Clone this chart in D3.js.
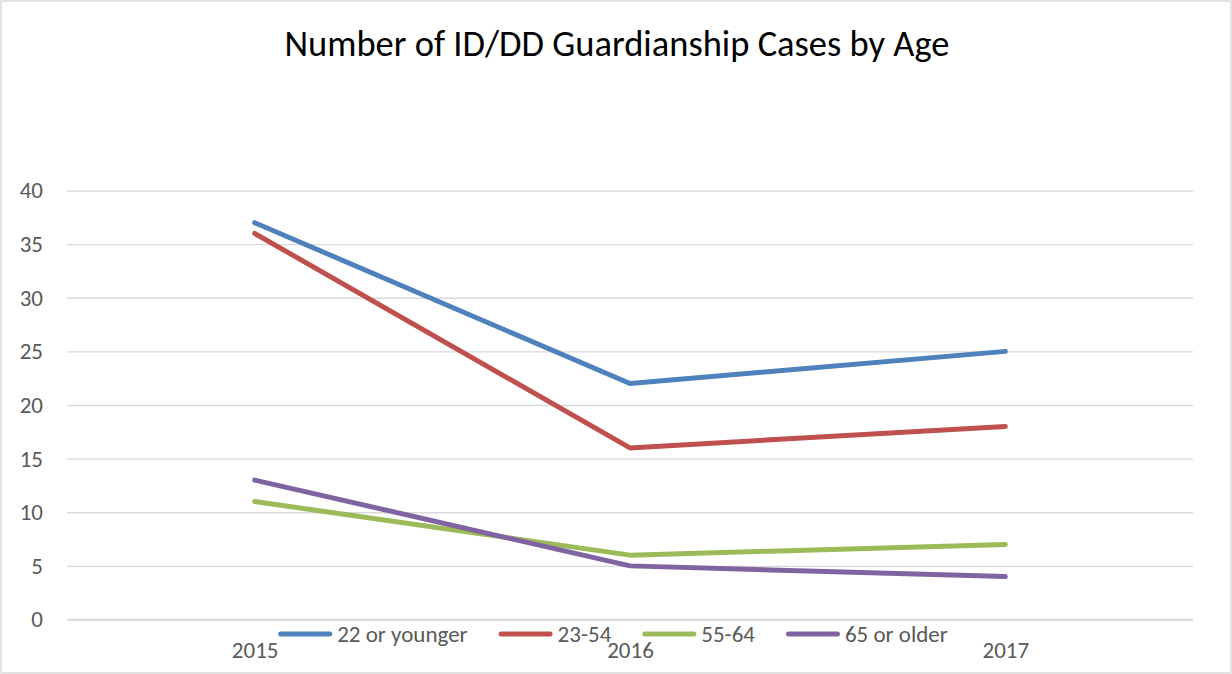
<!DOCTYPE html>
<html><head><meta charset="utf-8">
<script src="https://cdn.jsdelivr.net/npm/d3@7"></script>
<style>
html,body{margin:0;padding:0;background:#fff;}
svg{display:block;font-family:Carlito,Lato,"Open Sans",sans-serif;}
</style></head>
<body><svg id="chart" width="1232" height="674"></svg>
<script>
const title = "Number of ID/DD Guardianship Cases by Age";
const categories = ["2015", "2016", "2017"];
const seriesNames = ["22 or younger", "23-54", "55-64", "65 or older"];
const seriesColors = ["#4F81BD", "#C0504D", "#9BBB59", "#8064A2"];
const young = [37, 22, 25];
const mid = [36, 16, 18];
const older = [11, 6, 7];
const senior = [13, 5, 4];
const yTicks = [0, 5, 10, 15, 20, 25, 30, 35, 40];
const seriesValues = [young, mid, older, senior];

const W = 1232, H = 674;
const FONT = "Carlito,Lato,'Open Sans',sans-serif";
const m = {left: 67, right: 1193, top: 190.5, bottom: 619.5};
const svg = d3.select("#chart");

svg.append("rect").attr("x", 1).attr("y", 1).attr("width", W - 2).attr("height", H - 2)
  .attr("fill", "#fff").attr("stroke", "#d9d9d9").attr("stroke-width", 1.5);

svg.append("text").attr("x", 617).attr("y", 56).attr("text-anchor", "middle")
  .attr("font-size", 36.5).attr("fill", "#000").text(title);

const x = d3.scalePoint().domain(categories).range([m.left, m.right]).padding(0.5);
const y = d3.scaleLinear().domain([0, 40]).range([m.bottom, m.top]);

// gridlines + y labels
const yAxis = d3.axisLeft(y).tickValues(yTicks).tickSize(-(m.right - m.left)).tickPadding(24);
const gy = svg.append("g").attr("transform", `translate(${m.left},0)`).call(yAxis);
gy.select(".domain").remove();
gy.selectAll(".tick line").attr("stroke", "#d9d9d9").attr("stroke-width", 1.3);
gy.selectAll(".tick text").attr("font-size", 23).attr("fill", "#595959").attr("font-family", FONT);

const xAxis = d3.axisBottom(x).tickSize(0).tickPadding(22);
const gx = svg.append("g").attr("transform", `translate(0,${m.bottom})`).call(xAxis);
gx.select(".domain").attr("stroke", "#d9d9d9").attr("stroke-width", 1.3)
  .attr("d", `M${m.left},0H${m.right}`);
gx.selectAll(".tick text").attr("font-size", 23).attr("fill", "#595959").attr("font-family", FONT);

const line = d3.line().x((d, i) => x(categories[i])).y(d => y(d));
seriesValues.forEach((vals, k) => {
  svg.append("path").datum(vals).attr("d", line).attr("fill", "none")
    .attr("stroke", seriesColors[k]).attr("stroke-width", 5)
    .attr("stroke-linecap", "round").attr("stroke-linejoin", "round");
});

// legend
const lg = svg.append("g");
const items = lg.selectAll("g").data(seriesNames).join("g");
items.append("line").attr("x1", 2.5).attr("x2", 51.5).attr("y1", 0).attr("y2", 0)
  .attr("stroke", (d, i) => seriesColors[i]).attr("stroke-width", 5).attr("stroke-linecap", "round");
items.append("text").attr("x", 59).attr("y", 8).attr("font-size", 23).attr("fill", "#595959").text(d => d);
const gap = 31;
const widths = [];
items.each(function() { widths.push(59 + d3.select(this).select("text").node().getComputedTextLength()); });
const total = d3.sum(widths) + gap * (widths.length - 1);
let start = 620 - total / 2 - 7;
items.attr("transform", (d, i) => {
  const t = `translate(${start},634)`;
  start += widths[i] + gap;
  return t;
});
</script></body></html>
